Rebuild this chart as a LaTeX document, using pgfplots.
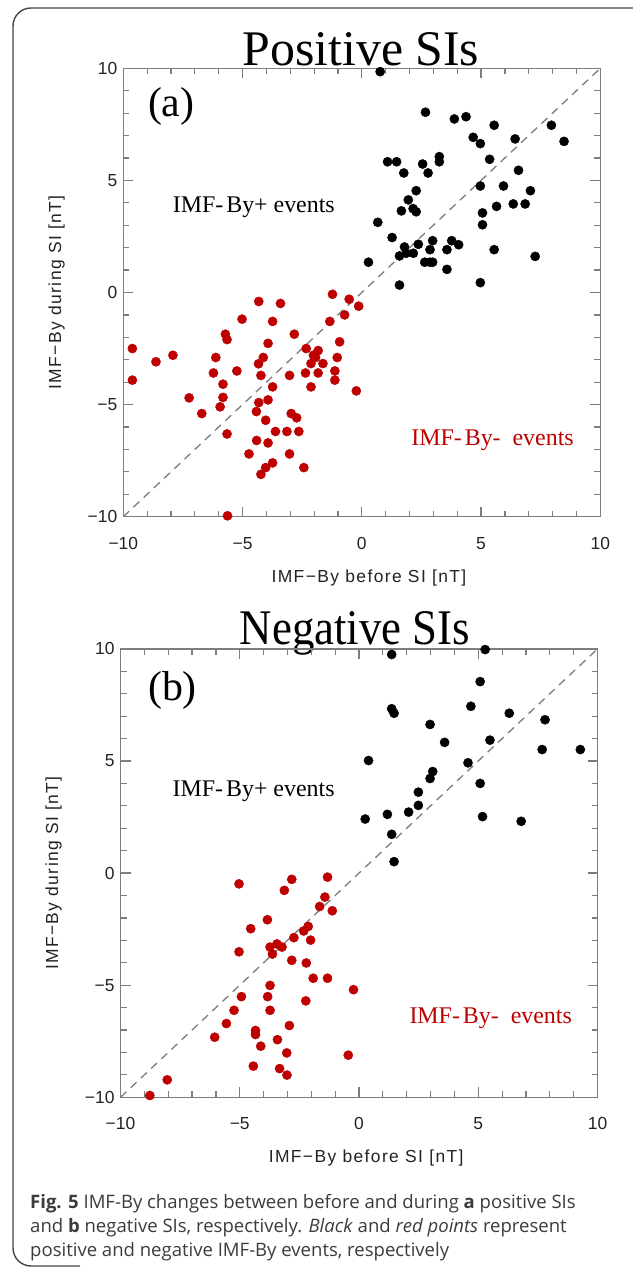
\documentclass[border=0pt]{standalone}
\usepackage{fontspec}
\setmainfont{Liberation Serif}
\newfontfamily\axfont{Liberation Sans}
\newfontfamily\axfontw[LetterSpace=8]{Liberation Sans}
\newfontfamily\capfont{Open Sans}
\usepackage{pgfplots}
\usepackage{pgfplotstable}
\pgfplotsset{compat=1.18}
\definecolor{axgray}{RGB}{125,125,125}
\definecolor{ptred}{RGB}{190,0,0}
\definecolor{txtgray}{RGB}{35,35,35}
\definecolor{capgray}{RGB}{60,60,60}
\definecolor{framecol}{RGB}{70,70,70}

\pgfplotstableread{
x y
0.77 9.85
2.67 8.04
3.88 7.74
4.37 7.84
5.55 7.46
7.95 7.46
8.48 6.74
4.67 6.92
4.97 6.64
6.43 6.85
5.36 5.94
6.57 5.45
4.97 4.75
5.94 4.75
7.07 4.54
5.65 3.84
6.35 3.95
6.85 3.95
5.06 3.55
5.06 3.02
5.55 1.91
7.27 1.61
4.97 0.44
1.08 5.83
1.46 5.83
1.76 5.33
2.55 5.73
2.78 5.33
3.25 6.06
3.25 5.83
2.28 4.54
1.95 4.13
1.66 3.64
2.15 3.74
2.28 3.60
0.67 3.13
1.27 2.45
1.79 2.03
1.58 1.63
1.86 1.75
2.16 1.75
2.37 2.15
2.86 1.91
2.97 2.31
3.57 1.91
3.77 2.31
4.06 2.13
2.64 1.35
2.86 1.35
2.97 1.35
3.57 1.03
1.58 0.33
0.28 1.35
}\posblack

\pgfplotstableread{
x y
-9.62 -2.50
-9.62 -3.91
-8.63 -3.09
-7.92 -2.80
-7.24 -4.70
-6.71 -5.40
-6.12 -2.90
-6.22 -3.59
-5.82 -4.09
-5.82 -4.68
-5.94 -5.10
-5.72 -1.86
-5.65 -2.10
-5.65 -6.31
-5.02 -1.19
-5.24 -3.50
-4.32 -0.40
-3.41 -0.49
-3.74 -1.29
-3.93 -2.27
-4.13 -2.90
-4.33 -3.18
-4.23 -3.70
-3.74 -4.21
-4.32 -4.91
-3.93 -4.79
-4.42 -5.31
-4.03 -5.70
-4.41 -6.60
-3.93 -6.71
-4.73 -7.20
-4.03 -7.81
-3.74 -7.60
-4.23 -8.11
-2.83 -1.86
-3.03 -3.70
-2.96 -5.40
-2.73 -5.59
-3.62 -6.20
-3.14 -6.20
-2.64 -6.20
-3.03 -7.20
-2.43 -7.81
-5.63 -9.96
-2.33 -2.50
-2.36 -3.59
-2.13 -4.21
-2.03 -2.80
-2.13 -3.17
-1.83 -2.59
-1.94 -2.90
-1.63 -3.17
-1.83 -3.59
-1.23 -0.08
-1.34 -1.29
-0.93 -2.20
-1.03 -2.90
-1.13 -3.50
-1.13 -3.91
-0.53 -0.30
-0.72 -1.00
-0.13 -0.61
-0.23 -4.39
}\posred

\pgfplotstableread{
x y
1.37 9.75
5.29 9.97
5.08 8.54
1.37 7.33
1.47 7.13
4.69 7.44
6.30 7.13
7.80 6.84
2.98 6.63
3.59 5.83
5.49 5.93
7.68 5.51
9.28 5.51
0.40 5.02
4.57 4.92
3.09 4.53
2.98 4.22
5.08 4.00
2.49 3.61
2.49 3.02
2.08 2.72
1.19 2.62
0.26 2.41
5.18 2.52
6.80 2.31
1.37 1.73
1.47 0.51
}\negblack

\pgfplotstableread{
x y
-8.77 -9.92
-8.04 -9.22
-6.05 -7.32
-5.56 -6.71
-5.24 -6.12
-4.93 -5.51
-5.03 -0.48
-5.03 -3.51
-4.54 -2.48
-4.43 -8.61
-4.34 -7.02
-4.34 -7.20
-4.12 -7.72
-3.84 -2.08
-3.73 -3.30
-3.63 -3.61
-3.44 -3.16
-3.23 -3.30
-3.73 -5.01
-3.83 -5.51
-3.73 -6.12
-3.42 -7.43
-3.33 -8.72
-3.03 -8.02
-3.02 -9.01
-2.92 -6.80
-3.13 -0.77
-2.82 -0.28
-2.73 -2.88
-2.82 -3.89
-2.32 -2.58
-2.13 -2.38
-2.03 -2.99
-2.21 -4.01
-1.92 -4.69
-2.23 -5.70
-1.65 -1.49
-1.43 -1.07
-1.32 -0.18
-1.12 -1.68
-1.32 -4.69
-0.23 -5.20
-0.45 -8.12
}\negred

\pgfplotsset{panel/.style={
  scale only axis, width=477bp, height=448.4bp,
  xmin=-10, xmax=10, ymin=-10, ymax=10,
  xtick={-10,-5,0,5,10}, ytick={-10,-5,0,5,10},
  xticklabels={−10,−5,0,5,10}, yticklabels={−10,−5,0,5,10},
  minor tick num=4,
  tick align=inside,
  major tick length=10bp, minor tick length=6bp,
  axis line style={axgray, line width=1.3bp},
  every tick/.style={axgray, line width=1.2bp},
  tick label style={font=\axfont\fontsize{17.5}{17.5}\selectfont, text=txtgray},
  xticklabel style={yshift=-17bp},
  yticklabel style={xshift=-2.5bp},
  label style={font=\axfontw\fontsize{17.5}{17.5}\selectfont, text=txtgray},
  xlabel style={at={(axis description cs:0.515,-0.136)}, anchor=center},
  ylabel style={at={(axis description cs:-0.14,0.5)}, anchor=center},
  xlabel={IMF−By before SI [nT]},
  ylabel={IMF−By during SI [nT]},
  clip mode=individual,
  axis on top=false,
}}
\tikzset{
  blk/.style={only marks, mark=*, mark size=4.6bp, mark options={fill=black, draw=black}},
  red/.style={only marks, mark=*, mark size=4.6bp, mark options={fill=ptred, draw=ptred}},
  diag/.style={axgray, line width=1.3bp, dash pattern=on 8bp off 6bp},
  intxt/.style={font=\fontsize{24}{24}\selectfont, anchor=base west, inner sep=0pt},
}

\begin{document}
\begin{tikzpicture}
\path[use as bounding box] (0,0) rectangle (633bp,1267bp);
\fill[white] (0,0) rectangle (633bp,1267bp);
\draw[framecol, line width=1.4bp, rounded corners=18bp] (660bp,1259bp) -- (13bp,1259bp) -- (13bp,1bp) -- (80bp,1bp);

% Panel (a)
\node[anchor=base, font=\fontsize{50}{50}\selectfont, inner sep=0pt] at (361bp,1201bp) {Positive SIs};
\begin{axis}[panel, at={(123.3bp,750.3bp)}, anchor=south west]
\addplot[diag] coordinates {(-10,-10) (10,10)};
\addplot[blk] table[x=x,y=y] {\posblack};
\addplot[red] table[x=x,y=y] {\posred};
\node[font=\fontsize{42}{42}\selectfont, anchor=base west, inner sep=0pt] at (axis cs:-8.97,7.83) {(a)};
\node[intxt] at (axis cs:-7.93,3.56) {IMF-\kern3pt By+ events};
\node[intxt, text=ptred] at (axis cs:2.07,-6.81) {IMF-\kern3pt By-\kern12pt events};
\end{axis}

% Panel (b)
\node[anchor=base, font=\fontsize{50}{50}\selectfont, inner sep=0pt, xscale=0.9] at (355bp,622bp) {Negative SIs};
\begin{axis}[panel, at={(120.5bp,169.7bp)}, anchor=south west]
\addplot[diag] coordinates {(-10,-10) (10,10)};
\addplot[blk] table[x=x,y=y] {\negblack};
\addplot[red] table[x=x,y=y] {\negred};
\node[font=\fontsize{42}{42}\selectfont, anchor=base west, inner sep=0pt] at (axis cs:-8.85,7.70) {(b)};
\node[intxt] at (axis cs:-7.82,3.42) {IMF-\kern3pt By+ events};
\node[intxt, text=ptred] at (axis cs:2.11,-6.71) {IMF-\kern3pt By-\kern12pt events};
\end{axis}

% Caption
\begin{scope}[every node/.style={anchor=base west, inner sep=0pt, text=capgray, font=\capfont\fontsize{18.6}{18.6}\selectfont}]
\node at (30bp,58bp) {\textbf{Fig. 5} IMF-By changes between before and during \textbf{a} positive SIs};
\node at (30bp,34.5bp) {and \textbf{b} negative SIs, respectively. \textit{Black} and \textit{red points} represent};
\node at (30bp,11bp) {positive and negative IMF-By events, respectively};
\end{scope}
\end{tikzpicture}
\end{document}
